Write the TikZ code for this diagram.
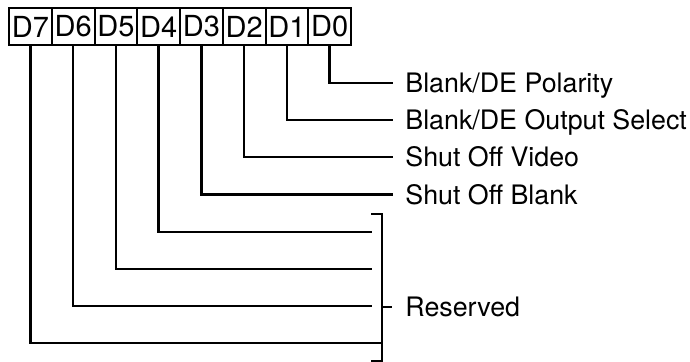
\documentclass[tikz,border=0pt]{standalone}
\usepackage{fontspec}
\setmainfont{TeX Gyre Heros}
\usetikzlibrary{positioning}

\tikzset{
  bitbox/.style={draw, line width=1pt, minimum width=21.375pt, minimum height=18.5pt,
    inner sep=0pt, font=\fontsize{14.5}{16}\selectfont},
  bitline/.style={line width=1.3pt},
  bitlabel/.style={anchor=west, inner ysep=0pt, inner xsep=6pt, text height=9.6pt,
    text depth=0pt, font=\fontsize{13.4}{15}\selectfont}
}

\begin{document}
\begin{tikzpicture}[x=0.5pt,y=-0.5pt]

        \useasboundingbox (0,0) rectangle (690,362);

        % Register bits
        \foreach \i [count=\k] in {7,6,5,4,3,2,1,0}
        {
            \node[bitbox] (d\i) at ({9+21.375+42.75*(\k-1)},26.5) {D\i};
        }

        % Named bits
        \node[bitlabel] (l0) at (393,83) {Blank/DE Polarity};
        \node[bitlabel] (l1) at (393,120) {Blank/DE Output Select};
        \node[bitlabel] (l2) at (393,157) {Shut Off Video};
        \node[bitlabel] (l3) at (393,194.5) {Shut Off Blank};
        \foreach \i in {0,1,2,3}
        {
            \draw[bitline] (d\i.south) |- (l\i.west);
        }

        % Reserved bits
        \coordinate (r4) at (372,232);
        \coordinate (r5) at (372,269);
        \coordinate (r6) at (372,306);
        \foreach \i in {4,5,6}
        {
            \draw[bitline] (d\i.south) |- (r\i);
        }
        \coordinate (btop) at (382,214);
        \coordinate (bbot) at (382,361);
        \coordinate (bmid) at (382,307);
        \draw[bitline] (371,214) -- (btop) -- (bbot) -- (371,361);
        \draw[bitline] (d7.south) |- (382,343);

        \node[bitlabel, inner xsep=6.5pt] (lres) at (392,307) {Reserved};
        \draw[bitline] (bmid) -- (lres.west);

    \end{tikzpicture}
\end{document}
